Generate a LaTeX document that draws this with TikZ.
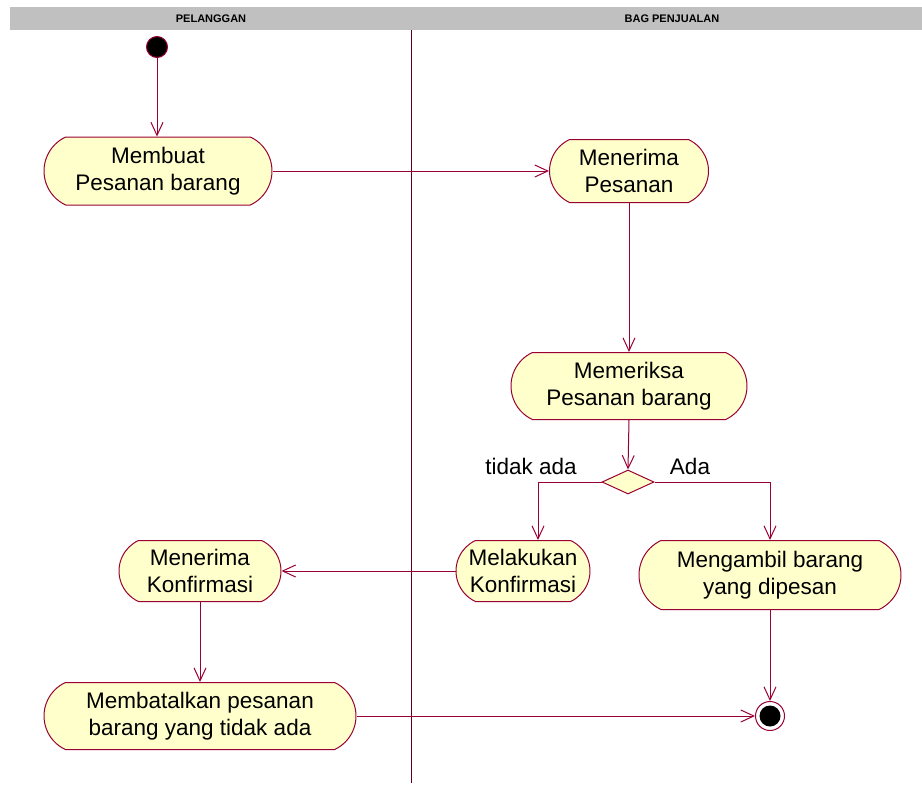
\documentclass[tikz,border=0pt]{standalone}
\usepackage{fontspec}
\setmainfont{Liberation Sans}
\usetikzlibrary{shapes.misc,shapes.geometric,arrows.meta}
\definecolor{garis}{RGB}{153,0,51}
\definecolor{isi}{RGB}{255,255,204}
\definecolor{judul}{RGB}{192,192,192}
\begin{document}
\begin{tikzpicture}[x=1pt,y=-1pt,
  aksi/.style={rounded rectangle, rounded rectangle arc length=130, draw=garis, fill=isi,
    align=center, inner sep=2pt, font=\fontsize{22.5}{27}\selectfont},
  label/.style={font=\fontsize{22.5}{27}\selectfont},
  lane/.style={font=\fontsize{11}{12}\selectfont\bfseries},
  every path/.style={line width=1pt},
  >={Straight Barb[length=13pt,width=12pt]}]
\useasboundingbox (0,0) rectangle (922,785);

% swimlanes
\fill[judul] (10,7) rectangle (922,30);
\node[lane] (l1) at (211,18.5) {PELANGGAN};
\node[lane] (l2) at (672,18.5) {BAG PENJUALAN};
\draw[garis!60!black, line width=0.6pt] (411,30) -- (411,783);

\node[circle,draw=garis,fill=black,minimum size=21pt,inner sep=0pt] (start) at (157,47) {};
\node[aksi, minimum width=232pt, minimum height=68pt] (buat) at (158,171) {Membuat\\Pesanan barang};
\node[aksi, minimum width=163pt, minimum height=63pt] (terima) at (629,171) {Menerima\\Pesanan};
\node[aksi, minimum width=240pt, minimum height=67pt] (periksa) at (629,386) {Memeriksa\\Pesanan barang};
\node[diamond, draw=garis, fill=isi, minimum width=52pt, minimum height=24pt, inner sep=0pt] (pilih) at (628,482) {};
\node[aksi, minimum width=138pt, minimum height=61pt] (konfirm) at (523,571) {Melakukan\\Konfirmasi};
\node[aksi, minimum width=266pt, minimum height=69pt] (ambil) at (770,575) {Mengambil barang\\yang dipesan};
\node[aksi, minimum width=166pt, minimum height=61pt] (terimak) at (200,571) {Menerima\\Konfirmasi};
\node[aksi, minimum width=316pt, minimum height=67pt] (batal) at (200,716) {Membatalkan pesanan\\barang yang tidak ada};
\node[circle, draw=garis, fill=white, minimum size=29pt, inner sep=0pt] (akhir) at (770,716) {};
\node[circle, fill=black, minimum size=21pt, inner sep=0pt] at (akhir) {};

\node[label] (t1) at (531,466) {tidak ada};
\node[label] (t2) at (690,466) {Ada};

\draw[->,garis] (start) -- (start |- buat.north);
\draw[->,garis] (buat.east) -- (terima.west);
\draw[->,garis] (terima.south) -- (periksa.north);
\draw[->,garis] (periksa.south) -- (pilih.north);
\draw[->,garis] (pilih.west) -| ([xshift=15pt]konfirm.north);
\draw[->,garis] (pilih.east) -| (ambil.north);
\draw[->,garis] (konfirm.west) -- (terimak.east);
\draw[->,garis] (terimak.south) -- (batal.north);
\draw[->,garis] (batal.east) -- (akhir);
\draw[->,garis] (ambil.south) -- (akhir);
\end{tikzpicture}
\end{document}
